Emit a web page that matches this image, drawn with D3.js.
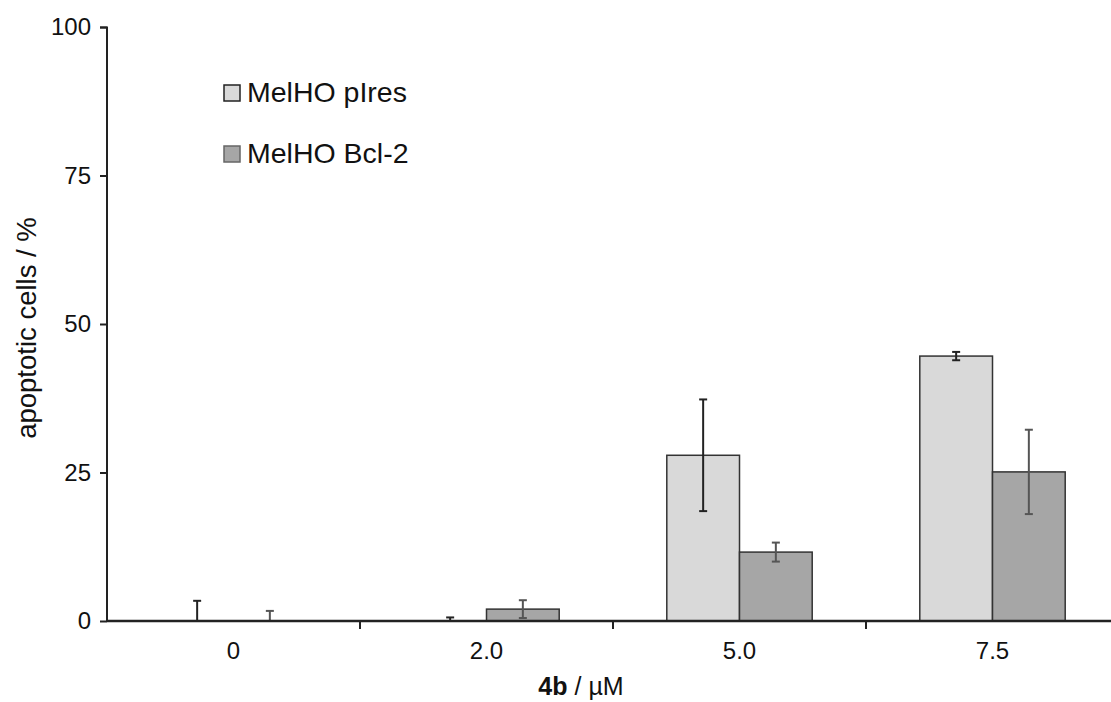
<!DOCTYPE html>
<html>
<head>
<meta charset="utf-8">
<script src="https://cdn.jsdelivr.net/npm/d3@7"></script>
<style>
  body { margin: 0; background: #fff; }
  svg { display: block; font-family: Arial, "Liberation Sans", sans-serif; }
</style>
</head>
<body>
<div id="wrapper"></div>
<script>
// data
const concentrations = ["0", "2.0", "5.0", "7.5"]
const seriesNames = ["MelHO pIres", "MelHO Bcl-2"]
const pIresValues = [0, 0.3, 27.9, 44.6]
const pIresErrors = [3.4, 0.3, 9.4, 0.7]
const bcl2Values = [0, 2.0, 11.6, 25.1]
const bcl2Errors = [1.7, 1.5, 1.6, 7.1]
const yTicks = [0, 25, 50, 75, 100]

function drawChart() {
  let dimensions = {
    width: 1111,
    height: 702,
    margin: { top: 27, right: -8, bottom: 81, left: 107 },
  }
  dimensions.boundedWidth = dimensions.width - dimensions.margin.left - dimensions.margin.right
  dimensions.boundedHeight = dimensions.height - dimensions.margin.top - dimensions.margin.bottom

  const wrapper = d3.select("#wrapper")
    .append("svg")
      .attr("width", dimensions.width)
      .attr("height", dimensions.height)

  const bounds = wrapper.append("g")
      .attr("transform", `translate(${dimensions.margin.left},${dimensions.margin.top})`)

  // scales
  const xScale = d3.scaleBand()
    .domain(concentrations)
    .range([0, dimensions.boundedWidth])

  const innerScale = d3.scaleBand()
    .domain(seriesNames)
    .range([0, xScale.bandwidth()])
    .paddingOuter(0.74)

  const yScale = d3.scaleLinear()
    .domain([0, 100])
    .range([dimensions.boundedHeight, 0])

  const rows = concentrations.map((c, i) => ({
    c,
    series: [
      { name: seriesNames[0], value: pIresValues[i], err: pIresErrors[i], fill: "#d9d9d9", errColor: "#222" },
      { name: seriesNames[1], value: bcl2Values[i], err: bcl2Errors[i], fill: "#a6a6a6", errColor: "#555" },
    ],
  }))

  const groups = bounds.selectAll(".group")
    .data(rows)
    .join("g")
      .attr("transform", d => `translate(${xScale(d.c)},0)`)

  // bars (zero values are not drawn)
  groups.selectAll("rect")
    .data(d => d.series.filter(s => s.value >= 0.5))
    .join("rect")
      .attr("x", s => innerScale(s.name))
      .attr("width", innerScale.bandwidth())
      .attr("y", s => yScale(s.value))
      .attr("height", s => yScale(0) - yScale(s.value))
      .attr("fill", s => s.fill)
      .attr("stroke", "#333")
      .attr("stroke-width", 1.5)

  // error bars
  const errs = groups.selectAll(".err")
    .data(d => d.series)
    .join("g")
      .attr("class", "err")
      .attr("stroke", s => s.errColor)
      .attr("stroke-width", 2)

  const cx = s => innerScale(s.name) + innerScale.bandwidth() / 2
  const lo = s => yScale(Math.max(0, s.value - s.err))
  const hi = s => yScale(s.value + s.err)

  errs.append("line")
    .attr("x1", cx).attr("x2", cx)
    .attr("y1", lo).attr("y2", hi)
  errs.append("line")
    .attr("x1", s => cx(s) - 4).attr("x2", s => cx(s) + 4)
    .attr("y1", hi).attr("y2", hi)
  errs.filter(s => s.value - s.err > 0.3).append("line")
    .attr("x1", s => cx(s) - 4).attr("x2", s => cx(s) + 4)
    .attr("y1", lo).attr("y2", lo)

  // y axis
  const yAxis = bounds.append("g")
    .call(d3.axisLeft(yScale).tickValues(yTicks).tickSize(7).tickPadding(9))
  yAxis.select(".domain").attr("d", `M-7,0.5H0V${dimensions.boundedHeight}`)
  yAxis.selectAll("line, path").attr("stroke", "#222").attr("stroke-width", 2)
  yAxis.selectAll("text").attr("font-size", 24).attr("fill", "#111")

  // x axis: boundary ticks between categories
  const xAxisGroup = bounds.append("g")
    .attr("transform", `translate(0,${dimensions.boundedHeight})`)
  xAxisGroup.append("line")
    .attr("x1", 0).attr("x2", dimensions.boundedWidth)
    .attr("stroke", "#222").attr("stroke-width", 2.5)
  xAxisGroup.selectAll(".sep")
    .data(concentrations.slice(1))
    .join("line")
      .attr("x1", d => xScale(d)).attr("x2", d => xScale(d))
      .attr("y1", 0).attr("y2", 8)
      .attr("stroke", "#222").attr("stroke-width", 2)
  xAxisGroup.selectAll(".lbl")
    .data(concentrations)
    .join("text")
      .attr("x", d => xScale(d) + xScale.bandwidth() / 2)
      .attr("y", 38)
      .attr("text-anchor", "middle")
      .attr("font-size", 24)
      .attr("fill", "#111")
      .text(d => d)

  // axis titles
  const xTitle = wrapper.append("text")
    .attr("x", 581)
    .attr("y", 695)
    .attr("text-anchor", "middle")
    .attr("font-size", 25)
    .attr("fill", "#111")
  xTitle.append("tspan").attr("font-weight", "bold").text("4b")
  xTitle.append("tspan").text(" / µM")

  wrapper.append("text")
    .attr("transform", "translate(36,328) rotate(-90)")
    .attr("text-anchor", "middle")
    .attr("font-size", 27.5)
    .attr("fill", "#111")
    .text("apoptotic cells / %")

  // legend
  const legend = wrapper.append("g")
    .attr("transform", "translate(224,85)")
  const items = legend.selectAll("g")
    .data(seriesNames)
    .join("g")
      .attr("transform", (d, i) => `translate(0,${i * 61})`)
  items.append("rect")
    .attr("width", 16).attr("height", 16)
    .attr("fill", (d, i) => i === 0 ? "#d9d9d9" : "#a6a6a6")
    .attr("stroke", (d, i) => i === 0 ? "#222" : "#666")
    .attr("stroke-width", 1.5)
  items.append("text")
    .attr("x", 23)
    .attr("y", 17)
    .attr("font-size", 28.5)
    .attr("fill", "#111")
    .text(d => d)
}

drawChart()
</script>
</body>
</html>
